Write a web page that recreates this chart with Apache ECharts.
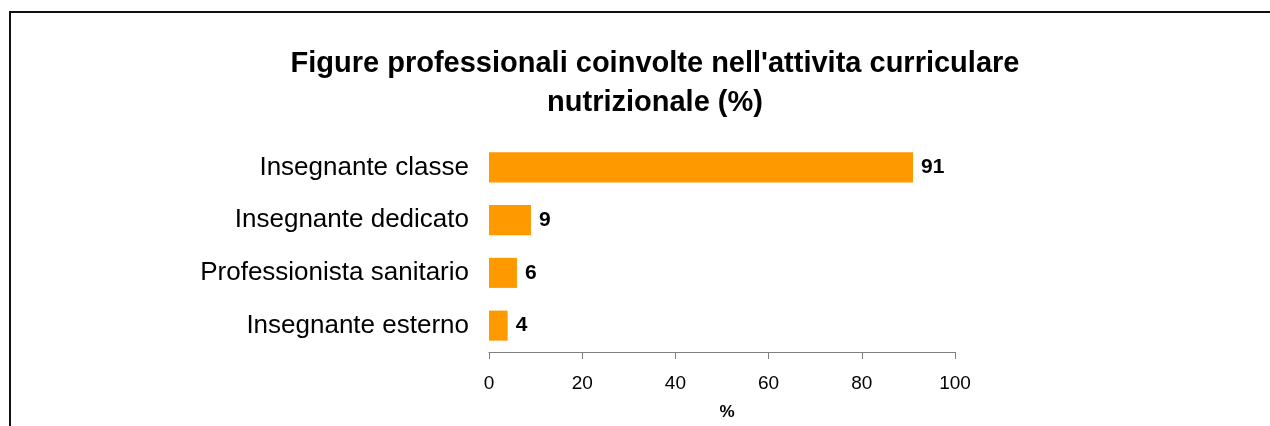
<!DOCTYPE html>
<html lang="it">
<head>
    <meta charset="UTF-8">
    <title>Figure professionali coinvolte nell'attivita curriculare nutrizionale (%)</title>
    <script type="text/javascript" src="https://cdn.jsdelivr.net/npm/echarts@6/dist/echarts.min.js"></script>
    <style type="text/css">
        html, body { margin: 0; padding: 0; background: #fff; }
        #frame {
            position: absolute; left: 9px; top: 11px; width: 1300px; height: 500px;
            border-left: 2px solid #111; border-top: 2px solid #111;
        }
        #main { position: absolute; left: 0; top: 0; width: 1270px; height: 426px; }
    </style>
</head>
<body>
    <div id="frame"></div>
    <div id="main"></div>
    <script type="text/javascript">
        var categories = ['Insegnante classe', 'Insegnante dedicato', 'Professionista sanitario', 'Insegnante esterno'];
        var values = [91, 9, 6, 4];
        var tickValues = [0, 20, 40, 60, 80, 100];

        (function () {
            var font = 'Liberation Sans, Arial, sans-serif';
            var chart = echarts.init(document.getElementById('main'));
            chart.setOption({
                animation: false,
                title: {
                    text: "Figure professionali coinvolte nell'attivita curriculare\nnutrizionale (%)",
                    left: 650, top: 39, textAlign: 'center',
                    textStyle: { fontFamily: font, fontSize: 29, fontWeight: 'bold', color: '#000', lineHeight: 39 }
                },
                grid: { left: 489, top: 141, width: 466, height: 211, containLabel: false },
                xAxis: {
                    type: 'value', min: 0, max: 100, interval: 20,
                    name: '%', nameLocation: 'middle', nameGap: 52,
                    nameTextStyle: { fontFamily: font, fontSize: 17, fontWeight: 'bold', color: '#000', padding: [0, 0, 0, 10] },
                    axisLine: { show: true, lineStyle: { color: '#808080', width: 1 } },
                    axisTick: { show: true, length: 7, lineStyle: { color: '#808080' } },
                    splitLine: { show: false },
                    axisLabel: { fontFamily: font, fontSize: 19, color: '#000', margin: 22,
                        formatter: function (v) { return tickValues.indexOf(v) >= 0 ? String(v) : ''; } }
                },
                yAxis: {
                    type: 'category', data: categories, inverse: true,
                    axisLine: { show: false }, axisTick: { show: false },
                    axisLabel: { fontFamily: font, fontSize: 26, color: '#000', margin: 20, padding: [4, 0, 0, 0] }
                },
                series: [{
                    type: 'bar', data: values, barCategoryGap: '43%',
                    itemStyle: { color: '#FF9900' },
                    label: { show: true, position: 'right', distance: 8,
                        fontFamily: font, fontSize: 21, fontWeight: 'bold', color: '#000' }
                }]
            });
        })();
    </script>
</body>
</html>
